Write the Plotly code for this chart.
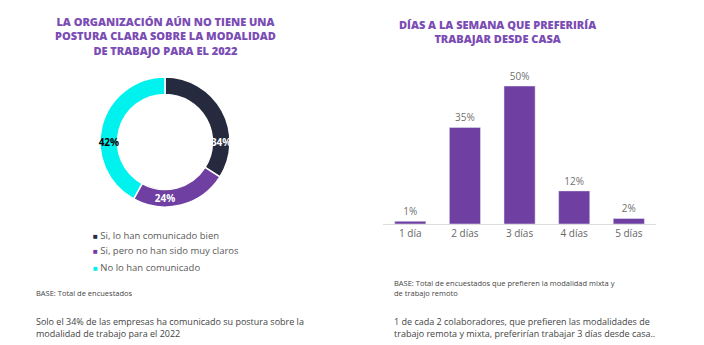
import plotly.graph_objects as go

# Donut data
pie_labels = ["Si, lo han comunicado bien", "Si, pero no han sido muy claros", "No lo han comunicado"]
pie_values = [34, 24, 42]
pie_colors = ["#262a3f", "#6f40a2", "#00f2ee"]
pie_text_colors = ["white", "white", "black"]

# Bar data
bar_cats = ["1 día", "2 días", "3 días", "4 días", "5 días"]
bar_values = [1, 35, 50, 12, 2]
bar_color = "#6f40a2"

title_color = "#7a4cb4"
txt_gray = "#555555"
FONT = "Open Sans"

fig = go.Figure()

fig.add_trace(go.Pie(
    labels=pie_labels, values=pie_values, hole=0.73, sort=False, direction="clockwise",
    rotation=0,
    marker=dict(colors=pie_colors, line=dict(color="white", width=1.5)),
    texttemplate="%{value}%", textposition="inside",
    insidetextfont=dict(color=pie_text_colors, size=10, family=FONT, weight="bold"),
    insidetextorientation="horizontal",
    domain=dict(x=[0.1406, 0.3281], y=[0.40, 0.777]),
    showlegend=False, hoverinfo="label+percent",
))

fig.add_trace(go.Bar(
    x=bar_cats, y=bar_values, marker=dict(color=bar_color),
    text=[f"{v}%" for v in bar_values], textposition="outside",
    textfont=dict(color="#707070", size=10, family=FONT), cliponaxis=False,
    showlegend=False, xaxis="x", yaxis="y",
))

fig.update_layout(
    width=704, height=345, margin=dict(l=0, r=0, t=0, b=0),
    paper_bgcolor="white", plot_bgcolor="white",
    font=dict(family=FONT, color=txt_gray),
    uniformtext=dict(minsize=10, mode="show"),
    bargap=0.43,
    xaxis=dict(domain=[0.544, 0.932], showgrid=False, showline=True, linecolor="#dddddd",
               linewidth=1, ticks="", tickfont=dict(size=10, color="#666666", family=FONT),
               anchor="y"),
    yaxis=dict(domain=[0.3507, 0.7907], range=[0, 55], visible=False, showgrid=False,
               anchor="x"),
)

annotations = []
# Titles
annotations.append(dict(
    x=165/704, y=1-36/345, xref="paper", yref="paper", xanchor="center", yanchor="middle",
    text="LA ORGANIZACIÓN AÚN NO TIENE UNA<br>POSTURA CLARA SOBRE LA MODALIDAD<br>DE TRABAJO PARA EL 2022",
    showarrow=False, align="center",
    font=dict(size=11, color=title_color, family=FONT, weight=800),
))
annotations.append(dict(
    x=497/704, y=1-31/345, xref="paper", yref="paper", xanchor="center", yanchor="middle",
    text="DÍAS A LA SEMANA QUE PREFERIRÍA<br>TRABAJAR DESDE CASA",
    showarrow=False, align="center",
    font=dict(size=11, color=title_color, family=FONT, weight=800),
))

# Legend (custom)
leg_y = [235, 251, 267]
for lab, col, yy in zip(pie_labels, pie_colors, leg_y):
    annotations.append(dict(
        x=91/704, y=1-yy/345, xref="paper", yref="paper", xanchor="left", yanchor="middle",
        text=f"<span style='color:{col};font-size:8px'>■</span> {lab}", showarrow=False,
        font=dict(size=9.5, color="#5a5a5a", family=FONT),
    ))

# Notes
annotations.append(dict(
    x=34/704, y=1-293/345, xref="paper", yref="paper", xanchor="left", yanchor="middle",
    text="BASE: Total de encuestados", showarrow=False,
    font=dict(size=7.5, color="#444444", family=FONT),
))
annotations.append(dict(
    x=34/704, y=1-327/345, xref="paper", yref="paper", xanchor="left", yanchor="middle",
    text="Solo el 34% de las empresas ha comunicado su postura sobre la<br>modalidad de trabajo para el 2022",
    showarrow=False, align="left",
    font=dict(size=9, color="#444444", family=FONT),
))
annotations.append(dict(
    x=392/704, y=1-288/345, xref="paper", yref="paper", xanchor="left", yanchor="middle",
    text="BASE: Total de encuestados que prefieren la modalidad mixta y<br>de trabajo remoto",
    showarrow=False, align="left",
    font=dict(size=7.5, color="#444444", family=FONT),
))
annotations.append(dict(
    x=392/704, y=1-327/345, xref="paper", yref="paper", xanchor="left", yanchor="middle",
    text="1 de cada 2 colaboradores, que prefieren las modalidades de<br>trabajo remota y mixta, preferirían trabajar 3 días desde casa..",
    showarrow=False, align="left",
    font=dict(size=9, color="#444444", family=FONT),
))

fig.update_layout(annotations=annotations)
fig.write_html("out.html")
